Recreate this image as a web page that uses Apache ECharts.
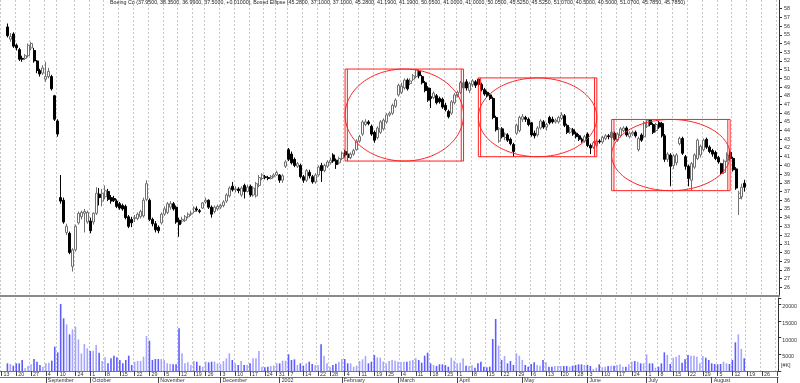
<!DOCTYPE html>
<html><head><meta charset="utf-8">
<script src="https://cdn.jsdelivr.net/npm/echarts@6/dist/echarts.min.js"></script>
<style>html,body{margin:0;padding:0;background:#fff}#c{width:800px;height:383px}</style>
</head><body><div id="c"></div>
<script>
// ---- calendar ----
const firstCategoryDate = '2001-08-13';
const categoryCount = 263;
const dataStartDate = '2001-08-15';
const holidays = ['2001-09-03','2001-09-11','2001-09-12','2001-09-13','2001-09-14','2001-11-22','2001-12-25',
  '2002-01-01','2002-01-21','2002-02-18','2002-03-29','2002-05-27','2002-07-04','2002-09-02'];
const monthNames = ['2002','February','March','April','May','June','July','August','September','October','November','December'];

// ---- Boeing Co daily prices, starting 2001-08-15 ----
const open = [55.9,54.5,55.1,53.8,53.3,52.3,52.3,52.6,53.5,53.2,
52.0,50.9,50.6,49.9,50.2,50.2,48.0,45.1,36.3,36.0,
32.3,32.2,28.4,30.3,33.4,34.1,34.5,33.5,33.6,33.5,
34.5,36.7,35.9,36.4,37.0,36.3,36.2,35.9,35.6,35.4,
35.3,34.1,33.8,33.9,33.9,34.1,34.2,36.1,36.0,33.8,
33.3,32.9,33.4,34.4,34.6,35.2,35.6,35.2,33.7,33.6,
33.7,34.1,34.4,34.7,35.0,34.8,35.1,35.8,36.0,35.2,
34.7,35.0,35.2,35.4,35.9,36.5,37.6,37.2,37.3,36.6,
37.7,37.0,37.6,36.6,36.5,37.7,38.5,38.7,38.6,38.5,
38.7,38.9,38.9,38.3,39.9,41.8,41.3,40.7,39.9,40.0,
38.7,38.3,39.2,38.7,38.1,38.9,40.0,39.4,39.9,40.3,
41.2,40.6,40.3,40.8,41.6,41.3,40.9,41.3,41.8,42.8,
43.6,44.7,45.0,44.5,43.8,43.2,43.8,44.2,45.0,45.8,
46.0,46.8,48.1,48.4,48.9,49.8,49.4,49.9,50.2,50.8,
50.2,49.5,48.9,47.9,47.8,48.0,47.7,47.6,46.9,46.2,
46.0,47.2,48.0,48.4,48.9,49.6,48.6,49.3,49.6,49.9,
49.3,48.7,48.4,48.1,47.7,45.5,42.8,44.2,43.2,43.5,
43.0,42.4,43.7,44.0,45.3,45.5,45.3,44.9,43.7,43.5,
44.3,45.0,44.4,45.5,45.3,45.0,45.0,45.4,45.7,44.6,
43.8,44.1,43.7,43.4,43.0,42.8,43.6,42.3,42.1,42.3,
42.8,42.7,43.1,43.4,43.2,43.7,42.9,43.4,44.0,44.3,
43.3,43.6,43.8,41.8,43.5,43.3,44.5,45.2,44.7,44.0,
44.9,44.8,43.4,40.7,41.2,40.0,40.3,42.5,43.1,41.0,
39.9,38.3,39.8,40.8,41.2,41.8,43.0,42.1,41.7,41.5,
40.9,40.2,39.2,40.6,41.5,40.8,39.6,36.2,36.4,37.95];
const close = [54.9,54.8,53.7,53.5,52.2,52.2,52.6,53.8,54.0,52.0,
50.9,50.5,51.2,50.2,50.8,48.8,45.3,43.6,35.9,33.5,
33.0,30.0,30.3,33.0,34.5,34.6,34.7,34.6,32.5,34.5,
36.8,36.3,36.8,37.1,36.1,35.9,36.0,35.3,35.1,35.0,
34.0,33.0,33.4,34.0,34.4,34.7,36.0,37.9,33.8,33.3,
32.6,32.5,34.4,35.0,35.6,35.6,35.0,33.5,33.2,33.8,
34.1,34.4,34.5,35.1,34.9,34.7,35.7,36.0,35.2,34.4,
35.2,35.3,35.4,35.8,36.6,37.4,37.2,37.3,37.1,37.4,
37.0,37.5,36.6,37.4,37.9,38.6,38.9,38.6,38.5,38.7,
38.9,39.2,38.3,38.8,40.4,40.7,40.3,40.0,40.2,38.7,
38.3,39.4,38.8,38.1,38.9,39.8,39.4,40.0,40.4,40.6,
40.5,40.1,40.8,41.4,41.2,40.9,41.3,41.7,42.8,43.3,
45.0,45.0,44.8,43.6,42.9,44.3,45.0,45.2,45.8,46.0,
46.9,47.5,49.2,49.1,49.8,48.8,49.7,50.3,51.0,50.3,
49.5,48.6,47.5,47.7,48.3,47.2,47.3,46.7,46.4,45.6,
47.3,48.1,48.4,49.5,49.5,48.9,49.4,49.7,49.2,49.3,
48.7,48.2,48.0,47.7,45.5,44.1,44.2,43.3,43.6,42.9,
42.5,41.6,44.6,45.5,45.6,45.3,44.7,43.5,43.4,44.3,
45.1,44.4,44.7,44.9,45.0,45.2,45.5,45.8,44.6,43.8,
44.2,43.6,43.3,43.0,42.8,43.3,42.3,42.0,42.6,42.8,
42.7,43.2,43.4,43.3,43.8,43.0,43.6,44.2,44.3,43.5,
43.7,43.8,43.4,43.1,42.9,44.9,45.2,44.7,43.8,44.7,
44.4,43.4,40.7,41.3,39.9,41.1,41.2,43.1,41.4,39.9,
38.5,40.2,41.2,42.9,42.2,42.9,42.1,41.6,41.3,40.8,
40.4,39.1,40.5,41.2,40.8,39.5,37.4,36.8,37.49,37.50];
const high = [56.3,55.2,55.3,54.0,53.5,52.6,52.8,54.0,54.2,53.5,
52.1,51.1,51.5,51.9,51.2,50.4,48.1,45.3,38.9,36.3,
33.3,32.4,30.5,33.2,34.7,34.8,35.0,34.8,34.0,34.6,
37.5,37.4,37.3,37.7,37.3,36.6,36.5,36.1,35.8,35.6,
35.5,34.3,34.1,34.3,34.6,34.9,36.3,38.3,36.2,34.0,
33.6,33.1,34.6,35.3,35.8,35.9,35.8,35.4,34.0,34.1,
34.3,34.6,34.8,35.3,35.3,35.0,35.8,36.3,36.1,35.4,
35.4,35.5,35.6,36.0,36.8,37.6,38.1,37.6,37.5,37.6,
37.9,37.8,37.8,37.6,38.1,38.9,39.1,38.9,38.8,38.9,
39.1,39.4,39.0,39.0,40.6,42.0,41.6,40.9,40.4,40.2,
38.9,39.6,39.5,38.9,39.1,40.0,40.3,40.2,40.6,40.9,
41.4,40.8,41.0,41.6,41.8,41.5,41.5,41.9,43.0,43.5,
45.2,45.3,45.2,44.7,44.0,44.5,45.2,45.4,46.0,46.2,
47.1,47.7,49.4,49.5,50.0,50.0,50.0,50.5,51.07,51.0,
50.4,49.7,49.1,48.9,48.5,48.2,47.9,47.8,47.2,46.4,
47.5,48.3,48.6,49.7,49.7,49.9,49.6,49.9,49.8,50.05,
49.5,48.9,48.6,48.3,47.9,45.7,44.4,44.4,43.8,43.7,
43.2,42.6,44.8,45.7,45.9,45.7,45.5,45.0,44.0,44.5,
45.3,45.2,44.9,45.7,45.6,45.4,45.7,46.1,45.9,44.8,
44.4,44.3,43.9,43.6,43.2,43.5,43.8,42.5,42.8,43.0,
43.0,43.4,43.6,43.6,44.0,43.9,43.8,44.4,44.5,44.5,
43.9,44.0,44.0,43.3,43.7,45.1,45.28,45.28,44.9,44.9,
45.1,45.0,43.6,41.5,41.4,41.3,41.4,43.3,43.3,41.2,
40.1,40.4,41.4,43.1,42.4,43.1,43.2,42.3,41.9,41.7,
41.1,40.3,40.7,41.5,41.7,41.0,39.8,37.1,37.9,38.35];
const low = [54.7,54.2,53.5,53.2,52.0,51.9,52.1,52.4,53.2,51.8,
50.6,50.2,50.4,49.6,50.0,48.6,45.1,43.3,35.6,33.3,
32.0,29.8,27.8,30.1,33.2,33.8,32.3,33.3,32.2,33.2,
34.3,35.4,35.3,36.1,35.9,35.6,35.8,35.1,34.9,34.8,
33.8,32.8,32.9,33.5,33.7,33.9,34.0,35.9,33.6,33.0,
32.3,32.2,33.2,34.2,34.4,34.9,34.8,33.3,31.8,33.3,
33.5,33.9,34.2,34.5,34.7,34.5,35.0,35.6,35.0,34.0,
34.5,34.8,35.0,35.2,35.7,36.3,37.0,36.9,36.8,36.4,
36.2,36.9,36.4,36.4,36.3,37.5,38.3,38.4,38.3,38.4,
38.6,38.8,38.0,38.0,39.7,40.5,40.1,39.8,39.7,38.5,
38.0,38.1,38.5,37.9,37.9,38.7,38.1,39.2,39.7,40.1,
40.3,39.6,40.1,40.6,40.9,40.5,40.7,41.1,41.7,42.6,
43.4,44.5,44.6,43.4,42.6,43.0,43.6,44.0,44.8,45.6,
45.8,46.6,47.9,48.2,48.7,48.6,49.2,49.7,50.0,50.0,
49.3,48.4,47.3,46.6,47.6,47.0,47.1,46.5,46.2,45.4,
45.8,47.0,47.8,48.2,48.7,48.6,48.3,49.0,48.9,49.1,
48.5,48.0,47.8,47.5,45.3,43.9,42.6,43.1,42.9,42.7,
42.3,41.0,43.5,43.8,45.0,45.0,44.5,43.3,43.1,43.3,
44.1,44.2,44.0,44.7,44.8,44.8,44.8,45.2,44.4,43.6,
43.6,43.4,43.1,42.8,42.6,42.6,42.1,41.3,41.9,42.1,
42.5,42.5,42.9,43.0,43.0,42.8,42.7,43.2,43.8,43.3,
43.1,43.4,43.2,41.6,42.7,43.1,44.3,44.5,43.6,43.8,
44.2,43.2,40.4,40.4,37.6,39.6,40.0,42.3,41.2,39.5,
37.6,37.1,39.6,40.6,40.9,41.6,41.9,41.4,41.0,40.6,
40.2,38.9,39.0,40.4,40.6,39.3,37.2,34.3,36.1,36.99];
// daily volume in thousands of shares
const volume = [2300,2100,1600,2300,2300,3300,800,1500,2000,3600,
2800,1800,1300,2300,2500,3100,7300,5600,20100,15800,
14000,11000,12500,13300,9500,5300,8100,6800,6000,6100,
7800,5500,3000,4100,2300,3800,4600,4100,3300,2300,
3300,4600,1800,2800,3000,3000,4300,10500,9100,3300,
3600,3600,3600,3300,2300,2100,2000,2000,12800,5300,
2300,2600,1800,3000,2800,1600,1300,2800,2600,2800,
2800,2300,2100,3000,3800,5300,3300,2300,1800,3000,
1800,1800,2300,3800,3800,6000,1300,1100,1300,1500,
1600,2300,2300,3100,3100,5000,3300,3500,1800,2300,
1600,2300,2800,2100,1800,1800,8000,4600,2300,1300,
1800,2200,2800,3600,3600,2300,2300,1300,1600,3000,
3500,4500,2300,2800,4800,4100,4000,2800,2300,3000,
3300,3100,2800,2700,2800,2800,3100,3300,3800,3300,
2500,4600,5500,2300,1800,1500,2000,2000,1800,1300,
4000,3100,2300,2500,3800,1600,1500,1700,1000,2300,
2800,1300,1100,1300,9600,15600,7600,3300,4500,2300,
3000,1800,5300,4600,3300,1800,1300,2100,2600,1800,
1600,3300,2600,1300,1300,1500,1500,1500,1500,1500,
1300,1600,1800,2000,2000,1800,1800,1500,600,1000,
2000,1100,1300,1500,1600,1600,1800,2000,1300,1300,
2000,2800,3000,2800,2300,2300,5000,2300,2300,1000,
1300,2300,5600,4800,2100,4000,4300,4800,2500,3500,
4800,4600,4600,4300,2300,4500,4000,3300,2300,2100,
2000,2100,2800,2300,2100,3300,8600,11000,6600,3800];
// Boxed ellipse anchors (data indices of first/last bar in each box)
const boxRanges = [[114,154],[159,199],[204,244]];

// ---- build categories (trading days) ----
function ymd(d){return d.getUTCFullYear()+'-'+String(d.getUTCMonth()+1).padStart(2,'0')+'-'+String(d.getUTCDate()).padStart(2,'0');}
const cats=[];
{ let d=new Date(firstCategoryDate+'T00:00:00Z');
  while(cats.length<categoryCount){const wd=d.getUTCDay(), s=ymd(d);
    if(wd!==0&&wd!==6&&!holidays.includes(s)) cats.push(s);
    d.setUTCDate(d.getUTCDate()+1);} }
const offset = cats.indexOf(dataStartDate);
const lastCat = cats.length-1;
const weekIdx=new Set(), monthIdx=new Set();
{ let last=-10;
  for(let k=0;k<cats.length;k++){
    let isStart=(k===0);
    if(k>0){const cur=new Date(cats[k]+'T00:00:00Z'), prev=new Date(cats[k-1]+'T00:00:00Z');
      isStart = cur.getUTCDay()<=prev.getUTCDay() || (cur-prev)>=7*864e5;
      if(cats[k].slice(5,7)!==cats[k-1].slice(5,7)) monthIdx.add(k);}
    if(isStart && k-last>=3){weekIdx.add(k); last=k;}
  } }
const weekFn=(i)=>weekIdx.has(i);
const monthFn=(i)=>monthIdx.has(i);

const candle = cats.map((c,k)=>{const i=k-offset; return (i>=0&&i<open.length)?[open[i],close[i],low[i],high[i]]:'-';});
const vol = cats.map((c,k)=>{const i=k-offset; if(i<0||i>=volume.length) return '-';
  return {value:volume[i], itemStyle:{color: close[i]<open[i] ? '#5c5cff' : '#a6a6ff'}};});
const boxData = boxRanges.map(([a,b])=>{let hi=-Infinity,lo=Infinity;
  for(let i=a;i<=b;i++){hi=Math.max(hi,high[i]);lo=Math.min(lo,low[i]);}
  return [a+offset,b+offset,lo,hi];});

// title text from data
const f4=v=>v.toFixed(4);
const n=open.length-1;
const chg=close[n]-close[n-1];
const boxTxt=boxData.slice().reverse().map(b=>{const m=(b[2]+b[3])/2; return [b[3],b[2],b[2],b[3],m,m].map(f4).join(', ');}).join(', ');
const titleText='Boeing Co ('+[open[n],high[n],low[n],close[n]].map(f4).join(', ')+', '+(chg>=0?'+':'')+chg.toFixed(5)+'), Boxed Ellipse ('+boxTxt+')';

const FONT='Liberation Sans';
const gridL=-6, gridR=21;
const dash={show:true, interval:weekFn, lineStyle:{color:'#c8c8c8', type:[2,2], width:1}};

const chart=echarts.init(document.getElementById('c'),null,{renderer:'canvas',width:800,height:383});
chart.setOption({
  animation:false,
  backgroundColor:'#ffffff',
  textStyle:{fontFamily:FONT},
  title:{text:titleText,left:110,top:0,padding:0,textStyle:{fontSize:5.3,fontWeight:'normal',color:'#222',fontFamily:FONT}},
  grid:[{left:gridL,right:gridR,top:0,height:296},{left:gridL,right:gridR,top:298,height:73}],
  xAxis:[
    {type:'category',gridIndex:0,data:cats,boundaryGap:true,
     axisLine:{show:true,lineStyle:{color:'#8a8a8a',width:2}},axisTick:{show:false},axisLabel:{show:false},splitLine:dash},
    {type:'category',gridIndex:1,data:cats,boundaryGap:true,
     axisLine:{show:true,lineStyle:{color:'#777',width:1}},
     axisTick:{show:true,interval:weekFn,alignWithLabel:true,length:5,lineStyle:{color:'#444'}},
     axisLabel:{show:true,interval:weekFn,align:'left',margin:1,padding:[0,0,0,2],fontSize:5.3,color:'#333',fontFamily:FONT,
       formatter:(v,idx)=> idx>=lastCat ? '' : String(Number(v.slice(8)))},
     splitLine:dash},
    {type:'category',gridIndex:1,data:cats,boundaryGap:true,position:'bottom',offset:6,
     axisLine:{show:true,lineStyle:{color:'#777',width:1}},
     axisTick:{show:true,interval:monthFn,alignWithLabel:true,length:6,lineStyle:{color:'#444'}},
     axisLabel:{show:true,interval:monthFn,align:'left',margin:1,padding:[0,0,0,2],fontSize:5.3,color:'#333',fontFamily:FONT,
       formatter:(v,idx)=>{ if(idx>=lastCat) return ''; const m=Number(v.slice(5,7)); return m===1? v.slice(0,4) : monthNames[m-1];}},
     splitLine:{show:false}}
  ],
  yAxis:[
    {type:'value',gridIndex:0,position:'right',min:25,max:59,interval:1,scale:true,
     axisLine:{show:true,lineStyle:{color:'#333'}},axisTick:{show:true,length:3,lineStyle:{color:'#333'}},
     axisLabel:{show:true,fontSize:5.3,color:'#333',margin:5,showMinLabel:false,showMaxLabel:false,fontFamily:FONT},
     splitLine:{show:false}},
    {type:'value',gridIndex:1,position:'right',min:0,max:21900,interval:5000,
     axisLine:{show:true,lineStyle:{color:'#333'}},axisTick:{show:true,length:3,lineStyle:{color:'#333'}},
     axisLabel:{show:true,fontSize:5.3,color:'#333',margin:4,verticalAlign:'top',fontFamily:FONT,
       formatter:(v)=> (v>0 && v%5000===0) ? String(v) : ''},
     splitLine:{show:false}}
  ],
  graphic:[{type:'text',left:781,top:363,style:{text:'[#K]',fontSize:5.3,fill:'#333',fontFamily:FONT}}],
  series:[
    {type:'candlestick',xAxisIndex:0,yAxisIndex:0,data:candle,barWidth:2.5,
     itemStyle:{color:'#ffffff',color0:'#000000',borderColor:'#707070',borderColor0:'#000000',borderWidth:1}},
    {type:'bar',xAxisIndex:1,yAxisIndex:1,data:vol,barWidth:1.6},
    {type:'custom',xAxisIndex:0,yAxisIndex:0,data:boxData,silent:true,z:5,
     encode:{x:[0,1],y:[2,3]},
     renderItem:function(params,api){
       const a=api.value(0),b=api.value(1),lo=api.value(2),hi=api.value(3);
       const p1=api.coord([a,hi]),p2=api.coord([b,lo]);
       const x1=p1[0],y1=p1[1],x2=p2[0],y2=p2[1];
       const cx=(x1+x2)/2,cy=(y1+y2)/2,rx=(x2-x1)/2,ry=(y2-y1)/2;
       const pts=[];for(let k=0;k<=144;k++){const t=k/144*2*Math.PI;pts.push([cx+rx*Math.cos(t),cy+ry*Math.sin(t)]);}
       const st={stroke:'#ff2020',fill:null,lineWidth:1};
       return {type:'group',children:[
         {type:'rect',shape:{x:x1,y:y1,width:x2-x1,height:y2-y1},style:st},
         {type:'line',shape:{x1:x1+2.3,y1:y1,x2:x1+2.3,y2:y2},style:st},
         {type:'line',shape:{x1:x2-2.3,y1:y1,x2:x2-2.3,y2:y2},style:st},
         {type:'polygon',shape:{points:pts},style:st}
       ]};
     }}
  ]
});
</script></body></html>
